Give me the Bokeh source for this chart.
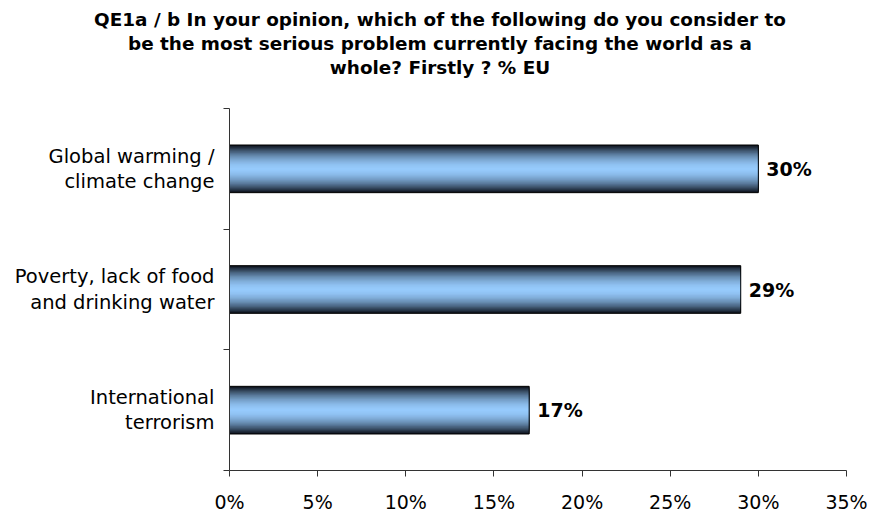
from bokeh.plotting import figure
from bokeh.layouts import column
from bokeh.models import FixedTicker, ColumnDataSource, Div
from bokeh.core.properties import value
from bokeh.embed import file_html
from bokeh.resources import INLINE

# ---- data ----
categories = ["International\nterrorism",
              "Poverty, lack of food\nand drinking water",
              "Global warming /\nclimate change"]          # bottom -> top
values = [17, 29, 30]
value_labels = ["17%", "29%", "30%"]
x_ticks = [0, 5, 10, 15, 20, 25, 30, 35]
x_tick_labels = ["0%", "5%", "10%", "15%", "20%", "25%", "30%", "35%"]
title_lines = ["QE1a / b In your opinion, which of the following do you consider to",
               "be the most serious problem currently facing the world as a",
               "whole? Firstly ? % EU"]

FONT = "DejaVu Sans"
W = 872
TH = 108          # height of the title block
H = 515 - TH      # height of the chart
BL, BR, BB = 229, 26, 42
XMAX = 35
NCAT = len(categories)

# ---- title block ----
title = Div(text="<br>".join(title_lines), width=W, height=TH, margin=0,
            styles={"text-align": "center", "font-family": FONT, "font-weight": "bold",
                    "font-size": "18.4px", "line-height": "24px", "padding-top": "8px",
                    "padding-left": "8px", "color": "black", "box-sizing": "border-box"})

# ---- chart ----
p = figure(width=W, height=H, output_backend="svg", toolbar_location=None,
           x_range=(0, XMAX), y_range=(0, NCAT),
           min_border_left=BL, min_border_right=BR, min_border_top=0, min_border_bottom=BB)
p.outline_line_color = None
p.xgrid.visible = False
p.ygrid.visible = False
p.background_fill_color = "white"
p.border_fill_color = "white"

centers = [i + 0.5 for i in range(NCAT)]
bar_h = 0.395

# gradient bars: nested bars from the dark outer edge to the light centre
N = 30
light = (150, 202, 252)
dark = (12, 18, 28)
for k in range(N):
    tt = 1 - k / N
    f = tt ** 1.8
    col = "#%02x%02x%02x" % tuple(int(round(light[j] + (dark[j] - light[j]) * f)) for j in range(3))
    p.hbar(y=centers, left=0, right=values, height=bar_h * tt, fill_color=col, line_color=None)
p.hbar(y=centers, left=0, right=values, height=bar_h, fill_color=None,
       line_color="black", line_width=1)

# value labels
src = ColumnDataSource(dict(x=values, y=centers, t=value_labels))
p.text(x="x", y="y", text="t", source=src, x_offset=8, text_baseline="middle",
       text_align="left", text_font=value(FONT), text_font_size="19px",
       text_font_style="bold", text_color="black")

# axes
p.xaxis.ticker = FixedTicker(ticks=x_ticks, minor_ticks=[])
p.xaxis.major_label_overrides = {tk: l for tk, l in zip(x_ticks, x_tick_labels)}
p.xaxis.major_tick_in = 0
p.xaxis.major_tick_out = 6
p.xaxis.major_label_standoff = 14
p.xaxis.major_label_text_font = FONT
p.xaxis.major_label_text_font_size = "19px"
p.xaxis.major_label_text_color = "black"
p.xaxis.axis_line_color = "#333333"
p.xaxis.major_tick_line_color = "#333333"

p.yaxis.ticker = FixedTicker(ticks=centers, minor_ticks=list(range(NCAT + 1)))
p.yaxis.major_label_overrides = {c: l for c, l in zip(centers, categories)}
p.yaxis.major_tick_in = 0
p.yaxis.major_tick_out = 0
p.yaxis.minor_tick_in = 0
p.yaxis.minor_tick_out = 6
p.yaxis.minor_tick_line_color = "#333333"
p.yaxis.axis_line_color = "#333333"
p.yaxis.major_label_standoff = 9
p.yaxis.major_label_text_font = FONT
p.yaxis.major_label_text_font_size = "19.5px"
p.yaxis.major_label_text_line_height = 1.1
p.yaxis.major_label_text_color = "black"

layout = column(title, p, spacing=0)
open("out.html", "w").write(file_html(layout, INLINE))
